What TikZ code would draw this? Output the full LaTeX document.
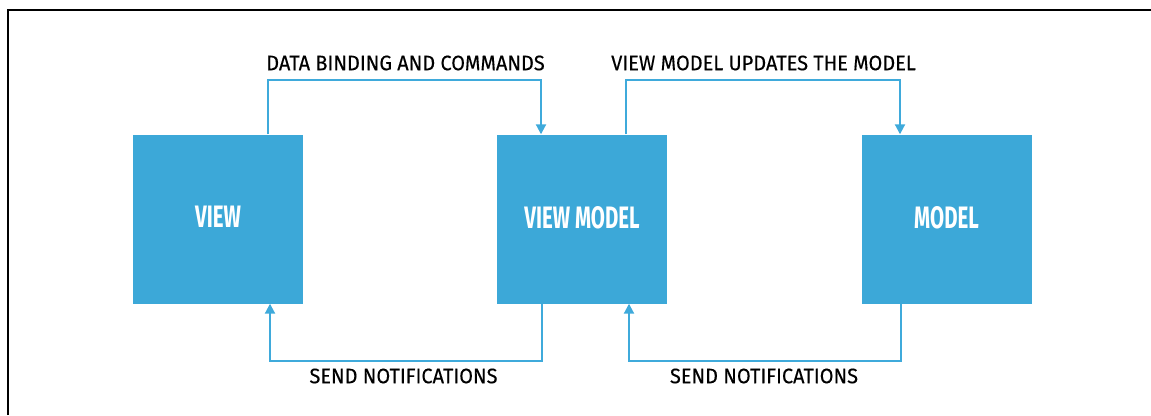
\documentclass[tikz,border=0pt]{standalone}
\usepackage{fontspec}
\setmainfont{Fira Sans}
\usepackage{tikz}
\usetikzlibrary{arrows.meta, positioning}
\usepackage{xcolor}
\definecolor{layerblue}{HTML}{3CA8D8}
\definecolor{flowblue}{HTML}{3FAADB}

\newcommand{\layertext}[1]{\raisebox{4pt}{\scalebox{0.66}[1]{#1}}}
\newcommand{\captiontext}[1]{\scalebox{0.95}[1]{#1}}

\tikzset{
  layer/.style={rectangle, fill=layerblue, minimum width=170pt, minimum height=169pt,
                inner sep=0pt, text=white, font=\fontsize{31}{31}\selectfont\bfseries},
  flow/.style={draw=flowblue, line width=2pt, -{Triangle[length=10pt,width=10pt]}},
  caption/.style={font=\fontsize{21}{21}\selectfont\addfontfeatures{FakeBold=0.3}, inner sep=0pt}
}

\begin{document}
\begin{tikzpicture}[x=1pt, y=-1pt]
\useasboundingbox (0,0) rectangle (1151,415);
% frame
\draw[line width=2pt] (8,415) -- (8,10) -- (1151,10);

% layers
\node[layer] (view)  at (218,219)   {\layertext{VIEW}};
\node[layer] (vm)    at (582,219)   {\layertext{VIEW MODEL}};
\node[layer] (model) at (946.5,219) {\layertext{MODEL}};

% top flows
\draw[flow] ([xshift=50pt]view.north) -- ++(0,-54) coordinate (a1) -| ([xshift=-41pt]vm.north);
\draw[flow] ([xshift=44pt]vm.north) -- ++(0,-54) coordinate (a2) -| ([xshift=-46.5pt]model.north);

% bottom flows
\draw[flow] ([xshift=-40pt]vm.south) -- ++(0,57) coordinate (b1) -| ([xshift=52pt]view.south);
\draw[flow] ([xshift=-45.5pt]model.south) -- ++(0,57) coordinate (b2) -| ([xshift=47pt]vm.south);

% captions
\node[caption] (bind)    at (405.5,63)  {\captiontext{DATA BINDING AND COMMANDS}};
\node[caption] (update)  at (763.5,63)  {\captiontext{VIEW MODEL UPDATES THE MODEL}};
\node[caption] (notify1) at (403.5,376) {\captiontext{SEND NOTIFICATIONS}};
\node[caption] (notify2) at (764,376)   {\captiontext{SEND NOTIFICATIONS}};
\end{tikzpicture}
\end{document}
